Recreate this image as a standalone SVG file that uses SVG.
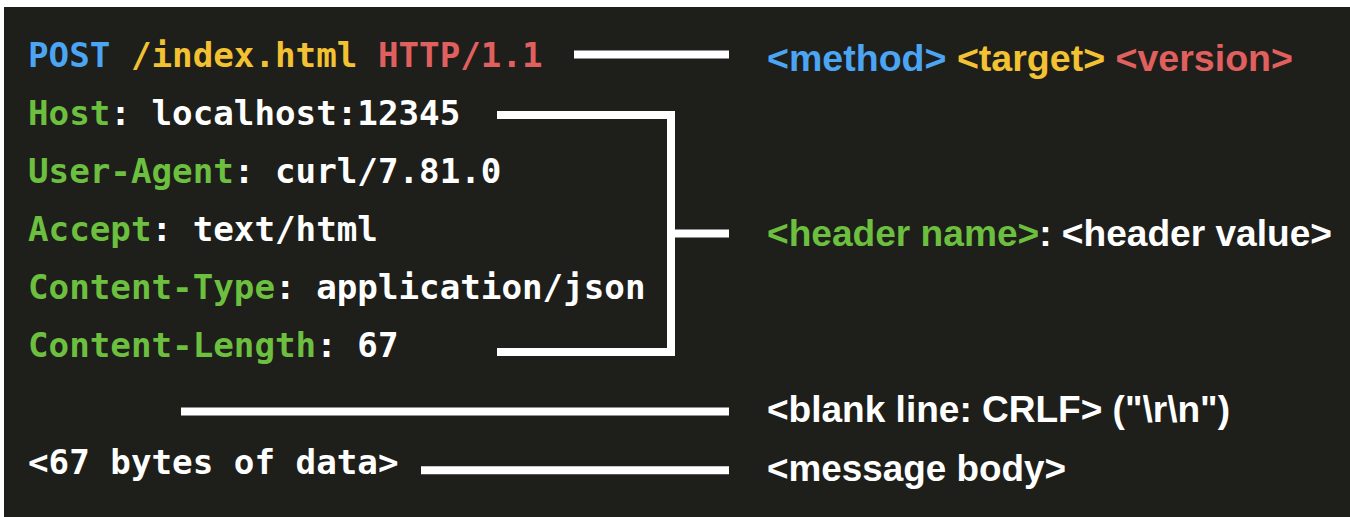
<svg xmlns="http://www.w3.org/2000/svg" width="1350" height="517" viewBox="0 0 1350 517">
  <style>
    .code { font-family: "DejaVu Sans Mono", "Liberation Mono", monospace; font-weight: bold; font-size: 34.2px; }
    .label { font-family: "Liberation Sans", Arial, sans-serif; font-weight: bold; font-size: 36px; }
    .wt { fill: #ffffff; }
    .bl { fill: #4ba5f2; }
    .yl { fill: #f3c233; }
    .rd { fill: #e0605f; }
    .gn { fill: #6cbf3f; }
    .conn { stroke: #ffffff; stroke-width: 8; fill: none; stroke-linecap: butt; stroke-linejoin: miter; }
  </style>

  <!-- frame and dark panel -->
  <rect x="0" y="0" width="1350" height="517" fill="#ffffff"/>
  <rect x="4" y="7" width="1346" height="510" fill="#1e1e1a"/>

  <!-- request text -->
  <g id="request-line">
    <text class="code" x="28" y="67" xml:space="preserve"><tspan class="bl">POST</tspan> <tspan class="yl">/index.html</tspan> <tspan class="rd">HTTP/1.1</tspan></text>
  </g>
  <g id="header-host">
    <text class="code" x="28" y="125"><tspan class="gn">Host</tspan><tspan class="wt">: localhost:12345</tspan></text>
  </g>
  <g id="header-user-agent">
    <text class="code" x="28" y="183"><tspan class="gn">User-Agent</tspan><tspan class="wt">: curl/7.81.0</tspan></text>
  </g>
  <g id="header-accept">
    <text class="code" x="28" y="241"><tspan class="gn">Accept</tspan><tspan class="wt">: text/html</tspan></text>
  </g>
  <g id="header-content-type">
    <text class="code" x="28" y="299"><tspan class="gn">Content-Type</tspan><tspan class="wt">: application/json</tspan></text>
  </g>
  <g id="header-content-length">
    <text class="code" x="28" y="357"><tspan class="gn">Content-Length</tspan><tspan class="wt">: 67</tspan></text>
  </g>
  <g id="body-data">
    <text class="code wt" x="28" y="474">&lt;67 bytes of data&gt;</text>
  </g>

  <!-- connectors -->
  <g id="connectors">
    <line class="conn" x1="574" y1="54.5" x2="729" y2="54.5"/>
    <polyline class="conn" points="497,115 671,115 671,352 497,352"/>
    <line class="conn" x1="671" y1="233.5" x2="729" y2="233.5"/>
    <line class="conn" x1="181" y1="411.5" x2="729" y2="411.5"/>
    <line class="conn" x1="421" y1="470.3" x2="729" y2="470.3"/>
  </g>

  <!-- right-hand labels -->
  <g id="label-request-line">
    <text class="label" x="767" y="71" xml:space="preserve" textLength="526" lengthAdjust="spacingAndGlyphs"><tspan class="bl">&lt;method&gt;</tspan> <tspan class="yl">&lt;target&gt;</tspan> <tspan class="rd">&lt;version&gt;</tspan></text>
  </g>
  <g id="label-headers">
    <text class="label" x="767" y="246" textLength="565" lengthAdjust="spacingAndGlyphs"><tspan class="gn">&lt;header name&gt;</tspan><tspan class="wt">: &lt;header value&gt;</tspan></text>
  </g>
  <g id="label-blank-line">
    <text class="label wt" x="767" y="422" textLength="463" lengthAdjust="spacingAndGlyphs">&lt;blank line: CRLF&gt; ("\r\n")</text>
  </g>
  <g id="label-body">
    <text class="label wt" x="767" y="481" textLength="299" lengthAdjust="spacingAndGlyphs">&lt;message body&gt;</text>
  </g>
</svg>
